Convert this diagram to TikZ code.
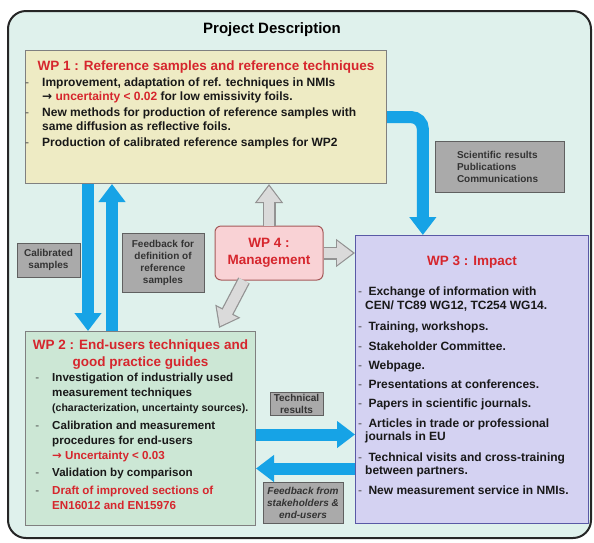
\documentclass[tikz,border=0pt]{standalone}
\usepackage{fontspec}
\setmainfont{Liberation Sans}
\newfontfamily\symfont{DejaVu Sans}
\usetikzlibrary{arrows.meta,calc}

\definecolor{bgmint}{RGB}{223,241,236}
\definecolor{wpyellow}{RGB}{238,235,196}
\definecolor{wpgreen}{RGB}{204,231,213}
\definecolor{wplilac}{RGB}{212,210,242}
\definecolor{wppink}{RGB}{249,210,213}
\definecolor{wpred}{RGB}{214,38,45}
\definecolor{skyblue}{RGB}{22,163,230}
\definecolor{taggray}{RGB}{170,170,170}
\definecolor{arrowgray}{RGB}{218,218,218}

\newcommand{\wpdash}[1][13pt]{\llap{\mdseries\color{black!70}-\hspace{#1}}}
\newcommand{\wparrow}{{\symfont\bfseries →}}

\tikzset{
  wpbox/.style={draw=gray, line width=1pt, anchor=north west, inner sep=0pt},
  wptitle/.style={text=wpred, align=center, font=\fontsize{13.5}{17}\selectfont\bfseries},
  wplist/.style={anchor=north west, align=left, inner sep=0pt, text=black!90},
  tag/.style={draw=gray!75!black, fill=taggray, inner sep=0pt, align=center,
    text=black!80, font=\fontsize{10}{12}\selectfont\bfseries},
  bluearrow/.style={draw=skyblue, line width=12pt, -{Triangle[width=26pt,length=18pt]}},
  grayedge/.style={draw=gray!85, line width=13pt, -{Triangle[width=27pt,length=19pt]}},
  grayfill/.style={draw=arrowgray, line width=10.5pt, shorten >=2.1pt,
    -{Triangle[width=22.6pt,length=15.7pt]}},
}

\begin{document}
\begin{tikzpicture}[x=1pt,y=-1pt]
\useasboundingbox (0,0) rectangle (594,542);
\draw[line width=2pt, draw=black!85, fill=bgmint, rounded corners=18pt] (8,11) rectangle (591,538);
\node[anchor=base, font=\fontsize{15}{18}\selectfont\bfseries] (title) at (272,33) {Project Description};

% work packages
\node[wpbox, fill=wpyellow, minimum width=361pt, minimum height=133pt] (wp1) at (25,50) {};
\node[wpbox, fill=wpgreen, minimum width=230pt, minimum height=194pt] (wp2) at (25,331) {};
\node[wpbox, fill=wplilac, draw=gray!70!blue, minimum width=233pt, minimum height=288pt] (wp3) at (355,235) {};
\node[wptitle, draw=red!30!gray, fill=wppink, rounded corners=6pt, line width=1pt,
  minimum width=108pt, minimum height=54pt] (wp4) at (269,253) {WP 4 :\\Management};

\node[wptitle, anchor=base] (wp1title) at ($(wp1.north)+(0,20)$)
  {WP 1 : Reference samples and reference techniques};
\node[wplist, font=\fontsize{12}{13.5}\selectfont\bfseries] (wp1list) at (42,78)
  {\wpdash Improvement, adaptation of ref. techniques in NMIs\\
   \wparrow\ {\color{wpred}uncertainty < 0.02} for low emissivity foils.\\[3pt]
   \wpdash New methods for production of reference samples with\\
   same diffusion as reflective foils.\\[3pt]
   \wpdash Production of calibrated reference samples for WP2};

\node[wptitle, anchor=north] (wp2title) at ($(wp2.north)+(0,5)$)
  {WP 2 : End-users techniques and\\good practice guides};
\node[wplist, font=\fontsize{11.6}{15}\selectfont\bfseries] (wp2list) at (52,373)
  {\wpdash Investigation of industrially used\\
   measurement techniques\\
   {\fontsize{10.5}{15}\selectfont(characterization, uncertainty sources).}\\[3pt]
   \wpdash Calibration and measurement\\
   procedures for end-users\\
   {\color{wpred}\wparrow\ Uncertainty < 0.03}\\[2pt]
   \wpdash Validation by comparison\\[3pt]
   \wpdash {\color{wpred}Draft of improved sections of}\\
   {\color{wpred}EN16012 and EN15976}};

\node[wptitle, anchor=base] (wp3title) at ($(wp3.north)+(0,30)$) {WP 3 : Impact};
\node[wplist, font=\fontsize{12}{13.5}\selectfont\bfseries] (wp3list) at (365,287)
  {\wpdash[3pt] Exchange of information with\\
   CEN/ TC89 WG12, TC254 WG14.\\[8pt]
   \wpdash[3pt] Training, workshops.\\[6pt]
   \wpdash[3pt] Stakeholder Committee.\\[6pt]
   \wpdash[3pt] Webpage.\\[5pt]
   \wpdash[3pt] Presentations at conferences.\\[6pt]
   \wpdash[3pt] Papers in scientific journals.\\[6pt]
   \wpdash[3pt] Articles in trade or professional\\
   journals in EU\\[7pt]
   \wpdash[3pt] Technical visits and cross-training\\
   between partners.\\[6pt]
   \wpdash[3pt] New measurement service in NMIs.};

% tags
\node[tag, minimum width=63pt, minimum height=34pt] (calib) at (48.5,260) {Calibrated\\samples};
\node[tag, minimum width=82pt, minimum height=59pt] (refback) at (163,262.5)
  {Feedback for\\definition of\\reference\\samples};
\node[tag, align=left, text width=85pt, inner xsep=22pt, minimum height=51pt] (sci) at (499.5,166.5)
  {Scientific results\\Publications\\Communications};
\node[tag, minimum width=53pt, minimum height=23pt] (techres) at (296.5,403.5) {Technical\\results};
\node[tag, font=\fontsize{10}{12}\selectfont\bfseries\itshape, minimum width=80pt, minimum height=41pt]
  (stakeback) at (303,502.5) {Feedback from\\stakeholders \&\\end-users};

% blue flows
\coordinate (wp3in) at ($(wp3.north west)!0.29!(wp3.north east)$);
\draw[bluearrow, rounded corners=12pt] (wp1.east) -| (wp3in);
\draw[bluearrow] ($(wp1.south west)+(63,0)$) -- ($(wp2.north west)+(63,0)$);
\draw[bluearrow] ($(wp2.north west)+(87,0)$) -- ($(wp1.south west)+(87,0)$);
\coordinate (techout) at ($(wp2.east)+(0,6)$);
\coordinate (stakein) at ($(wp2.east)+(0,40)$);
\draw[bluearrow] (techout) -- (techout -| wp3.west);
\draw[bluearrow] (stakein -| wp3.west) -- (stakein);

% management arrows
\coordinate (m1) at (wp4.north);
\coordinate (t1) at (wp4.north |- wp1.south);
\coordinate (m2) at (wp4.east);
\coordinate (t2) at (wp4.east -| wp3.west);
\coordinate (m3) at ($(wp4.south west)!0.27!(wp4.south east)$);
\coordinate (t3) at ($(wp2.north east)+(-37,-3)$);
\foreach \a/\b in {m1/t1, m2/t2, m3/t3} {
  \draw[grayedge] (\a) -- (\b);
  \draw[grayfill] (\a) -- (\b);
}
\end{tikzpicture}
\end{document}
